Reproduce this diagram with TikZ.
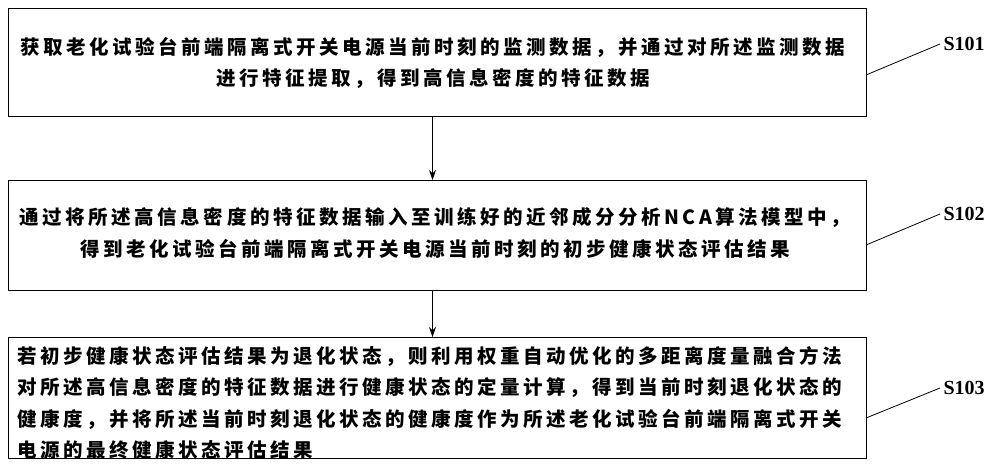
\documentclass[tikz,border=0pt]{standalone}
\usepackage{fontspec}
\newfontfamily\cjk[LetterSpace=18]{Noto Sans CJK SC}
\setmainfont{Liberation Serif}
\usetikzlibrary{arrows.meta}
\begin{document}
\begin{tikzpicture}[x=1pt,y=-1pt,
  stepbox/.style={draw,line width=1pt,minimum width=858pt,anchor=north west,inner sep=0pt},
  txt/.style={font=\cjk\bfseries\fontsize{19.5}{31.5}\selectfont},
  lab/.style={font=\bfseries\fontsize{20}{22}\selectfont,anchor=west},
  arr/.style={-{Stealth[length=10pt,width=7pt]},line width=1pt}]
\useasboundingbox (0,0) rectangle (1000,468);
\node[stepbox,minimum height=108pt] (b1) at (8,8) {};
\node[stepbox,minimum height=110pt] (b2) at (8,180) {};
\node[stepbox,minimum height=121pt] (b3) at (8,337) {};
\node[txt,align=center] (t1) at (433,63) {获取老化试验台前端隔离式开关电源当前时刻的监测数据，并通过对所述监测数据\\进行特征提取，得到高信息密度的特征数据};
\node[txt,align=center] (t2) at (435,233) {通过将所述高信息密度的特征数据输入至训练好的近邻成分分析NCA算法模型中，\\得到老化试验台前端隔离式开关电源当前时刻的初步健康状态评估结果};
\node[txt,align=left,anchor=west] (t3) at (14,403) {若初步健康状态评估结果为退化状态，则利用权重自动优化的多距离度量融合方法\\对所述高信息密度的特征数据进行健康状态的定量计算，得到当前时刻退化状态的\\健康度，并将所述当前时刻退化状态的健康度作为所述老化试验台前端隔离式开关\\电源的最终健康状态评估结果};
\draw[arr] ([xshift=-5pt]b1.south) -- ([xshift=-5pt]b2.north);
\draw[arr] ([xshift=-5pt]b2.south) -- ([xshift=-5pt]b3.north);
\node[lab] (s1) at (940,44) {S101};
\node[lab] (s2) at (940,214) {S102};
\node[lab] (s3) at (940,388) {S103};
\coordinate (c1) at (866,75);
\coordinate (c2) at (866,245);
\coordinate (c3) at (866,418);
\draw[line width=0.8pt] (c1) -- (s1.west);
\draw[line width=0.8pt] (c2) -- (s2.west);
\draw[line width=0.8pt] (c3) -- (s3.west);
\end{tikzpicture}
\end{document}
